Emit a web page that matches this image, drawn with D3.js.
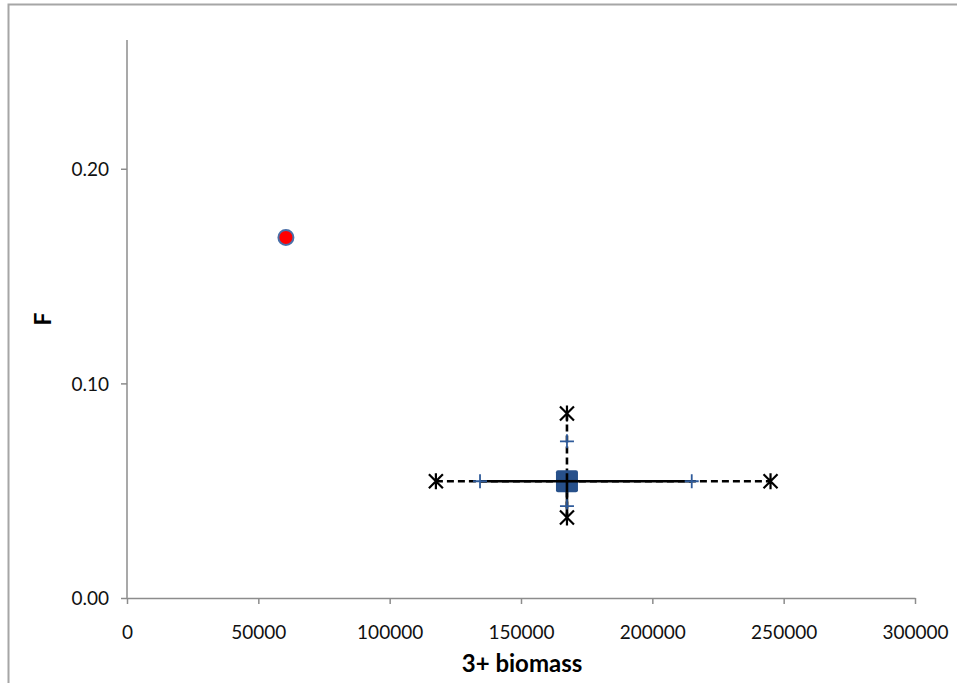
<!DOCTYPE html>
<html>
<head>
<meta charset="utf-8">
<script src="https://cdn.jsdelivr.net/npm/d3@7"></script>
<style>
  html, body { margin: 0; padding: 0; background: #fff; }
  svg { display: block; }
  text { font-family: Lato, "Open Sans", sans-serif; }
</style>
</head>
<body>
<svg id="chart" width="957" height="683"></svg>
<script>
// Tick values
const xTicks = [0, 50000, 100000, 150000, 200000, 250000, 300000];
const yTicks = [0, 0.1, 0.2];

// Single point (red circle)
const pointBiomass = [60500];
const pointF = [0.168];

// Central estimate (blue square)
const centreBiomass = [167500];
const centreF = [0.0544];

// Outer interval ends (star markers, dashed)
const outerBiomass = [117600, 245000];
const outerF = [0.086, 0.0375];

// Inner interval ends (plus markers, solid)
const innerBiomass = [134400, 215000];
const innerF = [0.073, 0.0428];

const svg = d3.select("#chart");
const margin = { left: 127, right: 42, top: 40, bottom: 85 };
const W = 957, H = 683;

const x = d3.scaleLinear().domain([0, 300000]).range([margin.left, W - margin.right]);
const y = d3.scaleLinear().domain([0, 0.26]).range([H - margin.bottom, margin.top]);

// Outer frame
svg.append("path")
  .attr("d", `M8.5,${H} V4.5 H${W}`)
  .attr("fill", "none").attr("stroke", "#a6a6a6").attr("stroke-width", 2);

// Axes
const xAxis = d3.axisBottom(x).tickValues(xTicks).tickFormat(d3.format("d")).tickSize(6).tickSizeOuter(0);
const yAxis = d3.axisLeft(y).tickValues(yTicks).tickFormat(d3.format(".2f")).tickSize(6).tickSizeOuter(0);

const gx = svg.append("g").attr("transform", `translate(0,${y(0)})`).call(xAxis);
const gy = svg.append("g").attr("transform", `translate(${x(0)},0)`).call(yAxis);

gx.select(".domain").attr("stroke", "#8c8c8c").attr("stroke-width", 1.5);
gy.select(".domain").attr("stroke", "#8c8c8c").attr("stroke-width", 1.5)
  .attr("d", `M0,${y(0.26)}V${y(0)}`);
[gx, gy].forEach(g => {
  g.selectAll(".tick line").attr("stroke", "#8c8c8c").attr("stroke-width", 1.5);
  g.selectAll(".tick text").attr("fill", "#111").style("font-size", "19px")
    .style("font-family", "Lato, 'Open Sans', sans-serif");
});
gx.selectAll(".tick text").attr("dy", "0").attr("y", 41);
gy.selectAll(".tick text").attr("x", -18).attr("dy", "0.36em");

// Axis titles
svg.append("text")
  .attr("x", (x(0) + x(300000)) / 2 + 1).attr("y", 672)
  .attr("text-anchor", "middle")
  .style("font-size", "24px").style("font-weight", "bold").attr("fill", "#000")
  .text("3+ biomass");
svg.append("text")
  .attr("transform", `translate(51,${y(0.13)}) rotate(-90)`)
  .attr("text-anchor", "middle")
  .style("font-size", "23px").style("font-weight", "bold").attr("fill", "#000")
  .text("F");

const cx = x(centreBiomass[0]), cy = y(centreF[0]);

// Dashed outer interval lines
const dash = "7,4";
const lw = 2.6;
svg.append("line")
  .attr("x1", x(outerBiomass[0])).attr("x2", x(outerBiomass[1]))
  .attr("y1", cy).attr("y2", cy)
  .attr("stroke", "#000").attr("stroke-width", lw).attr("stroke-dasharray", dash);
svg.append("line")
  .attr("x1", cx).attr("x2", cx)
  .attr("y1", y(outerF[0])).attr("y2", y(outerF[1]))
  .attr("stroke", "#000").attr("stroke-width", lw).attr("stroke-dasharray", dash);

// Solid inner interval lines
svg.append("line")
  .attr("x1", x(innerBiomass[0])).attr("x2", x(innerBiomass[1]))
  .attr("y1", cy).attr("y2", cy)
  .attr("stroke", "#000").attr("stroke-width", lw);
svg.append("line")
  .attr("x1", cx).attr("x2", cx)
  .attr("y1", cy).attr("y2", y(outerF[1]))
  .attr("stroke", "#000").attr("stroke-width", lw);

// Central square
const sq = 22;
svg.append("rect")
  .attr("x", cx - sq / 2).attr("y", cy - sq / 2)
  .attr("width", sq).attr("height", sq).attr("rx", 2)
  .attr("fill", "#27508a");
// line passes over the square
svg.append("line")
  .attr("x1", cx - sq / 2).attr("x2", cx + sq / 2).attr("y1", cy).attr("y2", cy)
  .attr("stroke", "#000").attr("stroke-width", lw);
svg.append("line")
  .attr("x1", cx).attr("x2", cx).attr("y1", cy - sq / 2 + 3).attr("y2", cy + sq / 2)
  .attr("stroke", "#000").attr("stroke-width", lw);

// Plus markers
const plusPts = [
  [x(innerBiomass[0]), cy], [x(innerBiomass[1]), cy],
  [cx, y(innerF[0])], [cx, y(innerF[1])]
];
const ps = 7;
plusPts.forEach(([px, py]) => {
  svg.append("path")
    .attr("d", `M${px - ps},${py}H${px + ps}M${px},${py - ps}V${py + ps}`)
    .attr("stroke", "#2f5b9a").attr("stroke-width", 1.8).attr("fill", "none");
});

// Star markers
const starPts = [
  [x(outerBiomass[0]), cy], [x(outerBiomass[1]), cy],
  [cx, y(outerF[0])], [cx, y(outerF[1])]
];
const ss = 7;
starPts.forEach(([px, py]) => {
  svg.append("path")
    .attr("d", `M${px - ss},${py - ss}L${px + ss},${py + ss}M${px - ss},${py + ss}L${px + ss},${py - ss}M${px},${py - ss - 1}V${py + ss + 1}`)
    .attr("stroke", "#000").attr("stroke-width", 2.2).attr("fill", "none");
});

// Red point
svg.selectAll("circle.pt")
  .data(pointBiomass.map((b, i) => [b, pointF[i]]))
  .enter().append("circle")
  .attr("class", "pt")
  .attr("cx", d => x(d[0])).attr("cy", d => y(d[1]))
  .attr("r", 7.5)
  .attr("fill", "#ff0000").attr("stroke", "#4a6fa8").attr("stroke-width", 2);
</script>
</body>
</html>
